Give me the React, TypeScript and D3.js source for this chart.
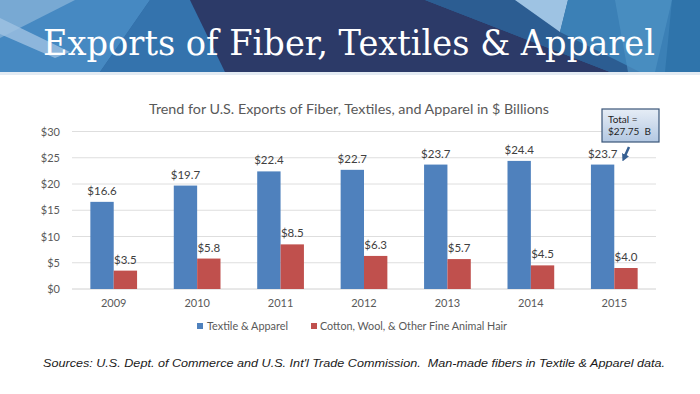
import React from "react";
import * as d3 from "d3";

const years = ["2009", "2010", "2011", "2012", "2013", "2014", "2015"];
const textileApparel = [16.6, 19.7, 22.4, 22.7, 23.7, 24.4, 23.7];
const cottonWool = [3.5, 5.8, 8.5, 6.3, 5.7, 4.5, 4.0];
const yTicks = [0, 5, 10, 15, 20, 25, 30];
const seriesNames = ["Textile & Apparel", "Cotton, Wool, & Other Fine Animal Hair"];
const seriesColors = ["#4f81bd", "#c0504d"];

const W = 700;
const H = 394;

export default function App() {
  const x = d3.scaleBand<string>().domain(years).range([72, 656]).paddingInner(0.44).paddingOuter(0.22);
  const inner = d3.scaleBand<string>().domain(["a", "b"]).range([0, x.bandwidth()]);
  const y = d3.scaleLinear().domain([0, 30]).range([289, 131.5]);
  const font = "Lato, 'Noto Sans', sans-serif";
  const series = [textileApparel, cottonWool];

  return (
    <div style={{ position: "absolute", left: 0, top: 0 }}>
      <svg width={W} height={H} style={{ display: "block", background: "#fff" }}>
        <defs>
          <linearGradient id="calloutGrad" x1="0" y1="0" x2="0" y2="1">
            <stop offset="0" stopColor="#e6edf6" />
            <stop offset="1" stopColor="#b3c8e2" />
          </linearGradient>
          <marker id="arrowHead" viewBox="0 0 10 10" refX="5" refY="5" markerWidth="3" markerHeight="3" orient="auto">
            <path d="M0,0 L10,5 L0,10 z" fill="#376092" />
          </marker>
        </defs>

        {/* Banner */}
        <g>
          <rect x={0} y={0} width={700} height={72} fill="#2f669e" />
          <polygon points="0,0 150,0 100,72 0,72" fill="#4689c2" />
          <polygon points="0,0 75,0 0,38" fill="#78a9d3" />
          <polygon points="0,18 70,52 55,58 0,34" fill="#9fc2e2" opacity={0.8} />
          <polygon points="150,0 190,0 225,72 100,72" fill="#3473ad" />
          <polygon points="190,0 425,0 610,72 225,72" fill="#2c3a68" />
          <polygon points="425,0 515,0 640,72 610,72" fill="#2c5d92" />
          <polygon points="515,0 568,0 560,32" fill="#9ec3e3" />
          <polygon points="568,0 700,0 700,72 640,72 560,32" fill="#3b80b6" />
          <polygon points="615,0 672,0 655,72 628,72" fill="#4f93c4" opacity={0.7} />
          <polygon points="672,0 700,0 700,72 665,72" fill="#2f74ab" />
          <rect x={0} y={72} width={700} height={3} fill="#e3ebf3" />
          <text
            x={43}
            y={55}
            fontFamily="'DejaVu Serif', 'Liberation Serif', serif"
            fontSize={36}
            fill="#ffffff"
            textLength={612}
            lengthAdjust="spacingAndGlyphs"
          >
            Exports of Fiber, Textiles &amp; Apparel
          </text>
        </g>

        {/* Chart title */}
        <text
          x={349}
          y={114}
          textAnchor="middle"
          fontFamily={font}
          fontSize={14}
          fill="#595959"
          textLength={400}
          lengthAdjust="spacingAndGlyphs"
        >
          Trend for U.S. Exports of Fiber, Textiles, and Apparel in $ Billions
        </text>

        {/* Gridlines and y ticks */}
        {yTicks.map((t) => (
          <g key={t}>
            <line x1={72} x2={656} y1={y(t)} y2={y(t)} stroke={t === 0 ? "#d0d0d0" : "#dedede"} strokeWidth={1} />
            <text x={60} y={y(t) + 4} textAnchor="end" fontFamily={font} fontSize={11} fill="#595959">
              {"$" + t}
            </text>
          </g>
        ))}

        {/* Bars */}
        {years.map((yr, i) => (
          <g key={yr} transform={`translate(${x(yr)},0)`}>
            {series.map((s, k) => {
              const bx = inner(k === 0 ? "a" : "b") as number;
              const bw = inner.bandwidth();
              return (
                <g key={k}>
                  <rect x={bx} y={y(s[i])} width={bw} height={y(0) - y(s[i])} fill={seriesColors[k]} />
                  <text
                    x={bx + bw / 2}
                    y={y(s[i]) - 7}
                    textAnchor="middle"
                    fontFamily={font}
                    fontSize={11.5}
                    fill="#404040"
                  >
                    {"$" + s[i].toFixed(1)}
                  </text>
                </g>
              );
            })}
            <text x={x.bandwidth() / 2} y={307} textAnchor="middle" fontFamily={font} fontSize={11} fill="#595959">
              {yr}
            </text>
          </g>
        ))}

        {/* Legend */}
        <rect x={197} y={323} width={6} height={6} fill={seriesColors[0]} />
        <text x={207} y={330} fontFamily={font} fontSize={11} fill="#595959" textLength={81} lengthAdjust="spacingAndGlyphs">
          {seriesNames[0]}
        </text>
        <rect x={311} y={323} width={6} height={6} fill={seriesColors[1]} />
        <text x={320} y={330} fontFamily={font} fontSize={11} fill="#595959" textLength={187} lengthAdjust="spacingAndGlyphs">
          {seriesNames[1]}
        </text>

        {/* Callout */}
        <rect x={602} y={109} width={57} height={33} fill="url(#calloutGrad)" stroke="#3a5578" strokeWidth={1.2} />
        <text x={608} y={123} fontFamily={font} fontSize={10} fill="#1f1f1f">
          Total =
        </text>
        <text x={608} y={135} fontFamily={font} fontSize={10} fill="#1f1f1f" style={{ whiteSpace: "pre" }}>
          $27.75  B
        </text>
        <line x1={629} y1={147} x2={624} y2={158} stroke="#376092" strokeWidth={2.5} markerEnd="url(#arrowHead)" />

        {/* Footnote */}
        <text
          x={43}
          y={367}
          fontFamily="'Liberation Sans', Arial, sans-serif"
          fontStyle="italic"
          fontSize={11.5}
          fill="#1a1a1a"
          textLength={622}
          lengthAdjust="spacingAndGlyphs"
          style={{ whiteSpace: "pre" }}
        >
          Sources: U.S. Dept. of Commerce and U.S. Int'l Trade Commission.  Man-made fibers in Textile &amp; Apparel data.
        </text>
      </svg>
    </div>
  );
}
